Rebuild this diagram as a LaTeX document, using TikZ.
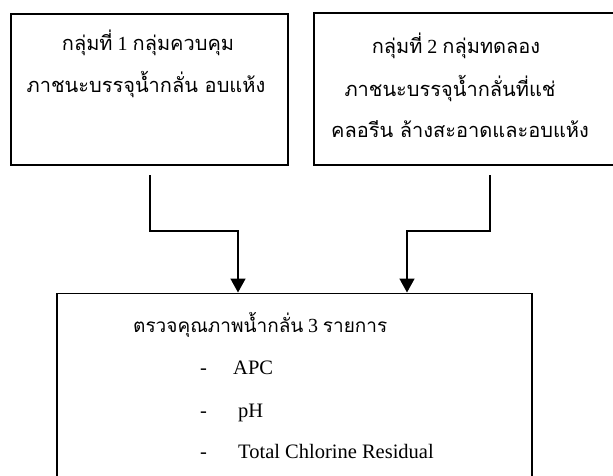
\documentclass[tikz,border=0pt]{standalone}
\usepackage{fontspec}
\setmainfont{Liberation Serif}
\newfontfamily\thaifont[Script=Thai]{Loma}
\usetikzlibrary{arrows.meta}
\newcommand{\thx}[1]{{\thaifont #1}}
\newcommand{\lat}[1]{{\fontsize{20}{24}\selectfont #1}}
\tikzset{
  boxed/.style={draw=black,line width=1.6pt,rectangle,inner sep=0pt,anchor=north west},
  txt/.style={inner sep=0pt,anchor=base,font=\fontsize{20}{24}\selectfont},
  txtw/.style={inner sep=0pt,anchor=base west,font=\fontsize{20.5}{24}\selectfont},
  arr/.style={line width=1.6pt,-{Triangle[width=15pt,length=14pt]}}
}
\begin{document}
\begin{tikzpicture}[x=1pt,y=-1pt]
\clip (0,0) rectangle (613,475);
\useasboundingbox (0,0) rectangle (613,475);
% boxes
\node[boxed,minimum width=277pt,minimum height=151pt] (b1) at (10,13) {};
\node[boxed,minimum width=305pt,minimum height=152pt] (b2) at (313,12) {};
\node[boxed,minimum width=475pt,minimum height=200pt] (b3) at (56,292.5) {};
% box 1 text
\node[txt] (t11) at (148,50) {\thx{กลุ่มที่} \lat{1} \thx{กลุ่มควบคุม}};
\node[txt] (t12) at (146,92) {\thx{ภาชนะบรรจุน้ำกลั่น อบแห้ง}};
% box 2 text
\node[txt] (t21) at (456,53) {\thx{กลุ่มที่} \lat{2}\ \thx{กลุ่มทดลอง}};
\node[txt] (t22) at (450,96) {\thx{ภาชนะบรรจุน้ำกลั่นที่แช่}};
\node[txt] (t23) at (460,137) {\thx{คลอรีน ล้างสะอาดและอบแห้ง}};
% box 3 text
\node[txt,anchor=base west,font=\fontsize{19}{23}\selectfont] (t31) at (133,332) {\thx{ตรวจคุณภาพน้ำกลั่น} \lat{3} \thx{รายการ}};
\node[txtw] (d1) at (200,374) {-};
\node[txtw] (i1) at (233,374) {APC};
\node[txtw] (d2) at (200,417) {-};
\node[txtw] (i2) at (238,417) {pH};
\node[txtw] (d3) at (200,458) {-};
\node[txtw] (i3) at (238,458) {Total Chlorine Residual};
% connectors
\coordinate (s1) at (150,175);
\coordinate (m1) at (238,231);
\coordinate (s2) at (490,175);
\coordinate (m2) at (407,231);
\draw[arr] (s1) |- (m1) -- (m1 |- b3.north);
\draw[arr] (s2) |- (m2) -- (m2 |- b3.north);
\end{tikzpicture}
\end{document}
